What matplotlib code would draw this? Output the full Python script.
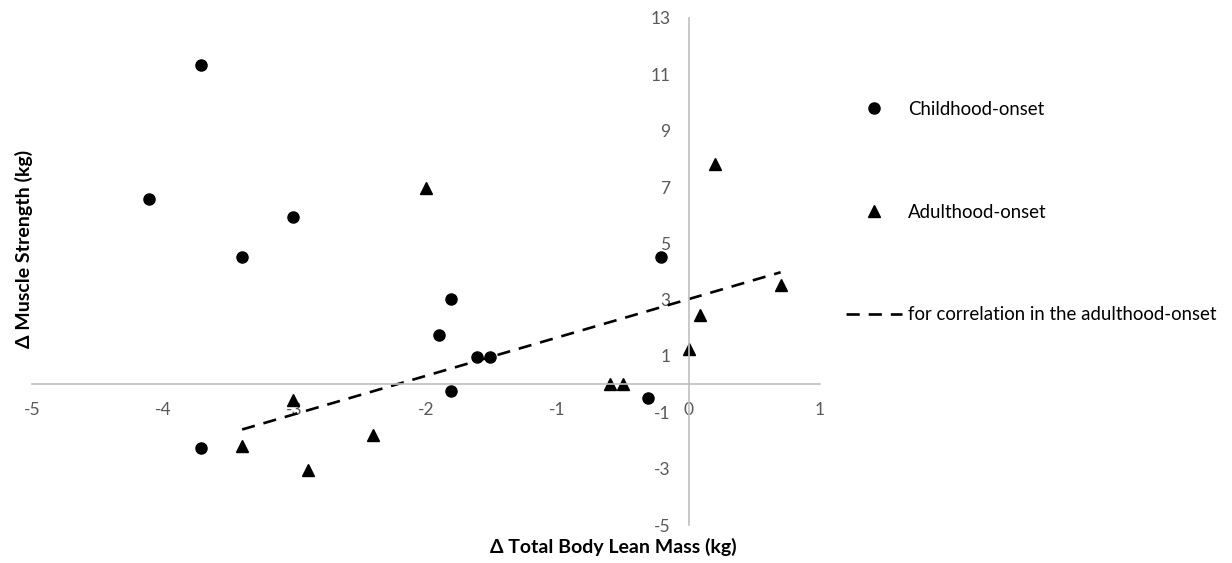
import numpy as np
import matplotlib
matplotlib.use("Agg")
import matplotlib.pyplot as plt

plt.rcParams['font.family'] = ['Lato', 'DejaVu Sans']
plt.rcParams['axes.unicode_minus'] = False

# change in lean mass (x) and muscle strength (y), kg
child_x = [-3.71, -4.11, -3.01, -3.40, -1.81, -1.90, -1.61, -1.51, -1.81, -3.71, -0.21, -0.31]
child_y = [11.34, 6.57, 5.95, 4.53, 3.03, 1.75, 0.98, 0.98, -0.24, -2.27, 4.53, -0.50]

adult_x = [-2.00, 0.20, 0.70, 0.09, 0.00, -0.60, -0.50, -3.01, -2.40, -3.40, -2.90]
adult_y = [6.98, 7.81, 3.52, 2.46, 1.25, 0.00, 0.00, -0.57, -1.80, -2.19, -3.06]

x_ticks = [-5, -4, -3, -2, -1, 0, 1]
y_ticks = [-5, -3, -1, 1, 3, 5, 7, 9, 11, 13]

W, H = 1232, 563
fig = plt.figure(figsize=(W / 100, H / 100), dpi=100)
ax = fig.add_axes([32 / W, 1 - 525 / H, 788 / W, 507 / H])

ax.plot(child_x, child_y, 'o', color='black', markersize=8, label='Childhood-onset')
ax.plot(adult_x, adult_y, '^', color='black', markersize=8.5, label='Adulthood-onset')

# linear fit for the adulthood-onset group
slope, intercept = np.polyfit(adult_x, adult_y, 1)
fx = np.array([min(adult_x), max(adult_x)])
ax.plot(fx, slope * fx + intercept, color='black', lw=1.9,
        linestyle=(0, (5, 3.4)), label='for correlation in the adulthood-onset')

ax.set_xlim(-5, 1)
ax.set_ylim(-5, 13)
ax.set_xticks(x_ticks)
ax.set_yticks(y_ticks)
ax.tick_params(axis='both', length=0, labelsize=12.5, labelcolor='#595959')
ax.tick_params(axis='x', pad=13)
ax.tick_params(axis='y', pad=13)

for s in ['top', 'right']:
    ax.spines[s].set_visible(False)
for s in ['left', 'bottom']:
    ax.spines[s].set_position(('data', 0))
    ax.spines[s].set_color('#bfbfbf')
    ax.spines[s].set_linewidth(1.2)

fig.text(613 / W, 1 - 547 / H, 'Δ Total Body Lean Mass (kg)', ha='center', va='center',
         fontsize=14, fontweight='bold')
fig.text(24 / W, 1 - 249 / H, 'Δ Muscle Strength (kg)', ha='center', va='center',
         rotation=90, fontsize=14, fontweight='bold')

fig.legend(loc='center left', bbox_to_anchor=(846 / W, 1 - 212 / H), frameon=False,
           fontsize=13.4, borderpad=0, borderaxespad=0, labelspacing=4.6,
           handlelength=3.0, handletextpad=0.35)

fig.savefig('out.png', dpi=100)
